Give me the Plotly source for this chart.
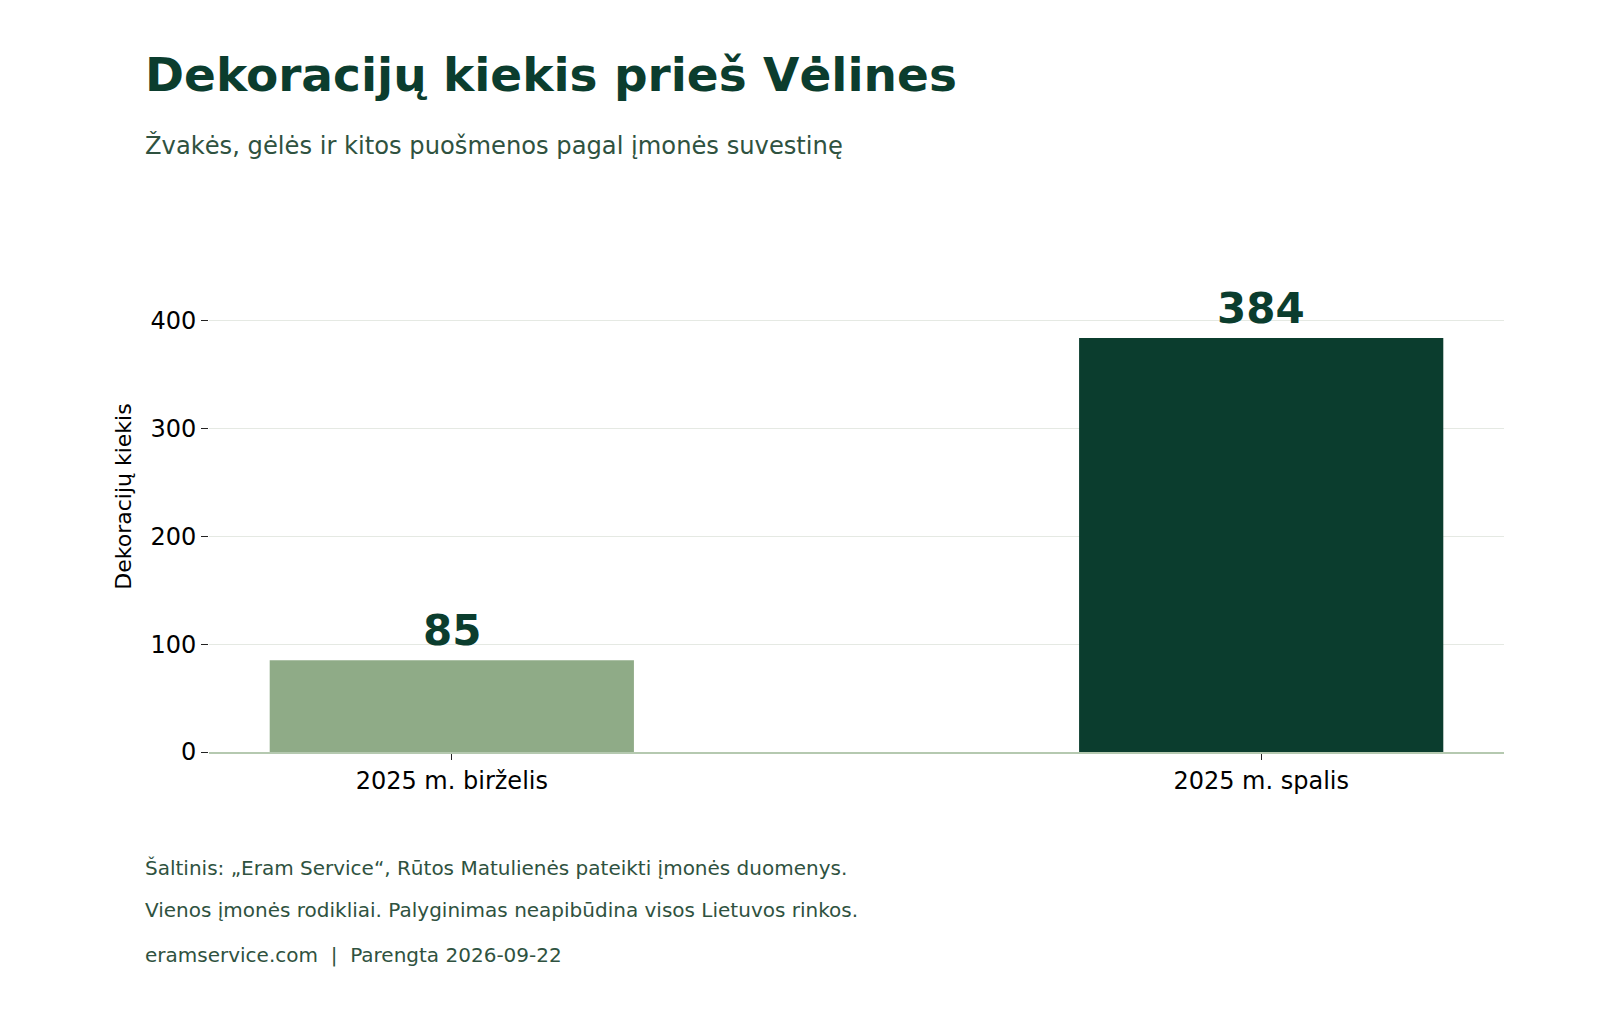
import plotly.graph_objects as go

# data
categories = ["2025 m. birželis", "2025 m. spalis"]
values = [85, 384]
bar_colors = ["#8fab87", "#0b3d2e"]
y_ticks = [0, 100, 200, 300, 400]

title = "Dekoracijų kiekis prieš Vėlines"
subtitle = "Žvakės, gėlės ir kitos puošmenos pagal įmonės suvestinę"
notes = [
    "Šaltinis: „Eram Service“, Rūtos Matulienės pateikti įmonės duomenys.",
    "Vienos įmonės rodikliai. Palyginimas neapibūdina visos Lietuvos rinkos.",
    "eramservice.com  |  Parengta 2026-09-22",
]

W, H = 1600, 1018
L, R, T, B = 201, 104, 233, 274
plot_h = H - T - B
plot_w = W - L - R


def px_to_paper(xp, yp):
    return (xp - L) / plot_w, (H - B - yp) / plot_h


FONT = "DejaVu Sans"
dark = "#0b3d2e"
muted = "#2f5240"

fig = go.Figure()
fig.add_trace(go.Bar(
    x=categories, y=values, marker_color=bar_colors, width=0.45,
    marker_line_width=0, hoverinfo="skip",
))

# value labels above bars
for c, v in zip(categories, values):
    fig.add_annotation(x=c, y=v, text=f"<b>{v}</b>", showarrow=False,
                       yanchor="bottom", yshift=3,
                       font=dict(family=FONT, size=42, color=dark))

# title, subtitle, notes
tx, ty = px_to_paper(135, 67)
fig.add_annotation(xref="paper", yref="paper", x=tx, y=ty, text=f"<b>{title}</b>",
                   showarrow=False, xanchor="left", yanchor="middle",
                   font=dict(family=FONT, size=47, color=dark))
sx, sy = px_to_paper(135, 137)
fig.add_annotation(xref="paper", yref="paper", x=sx, y=sy, text=subtitle,
                   showarrow=False, xanchor="left", yanchor="middle",
                   font=dict(family=FONT, size=24.2, color=muted))
for note, yp in zip(notes, [860, 902, 947]):
    nx, ny = px_to_paper(135, yp)
    fig.add_annotation(xref="paper", yref="paper", x=nx, y=ny, text=note,
                       showarrow=False, xanchor="left", yanchor="middle",
                       font=dict(family=FONT, size=20, color=muted))

fig.update_layout(
    width=W, height=H,
    margin=dict(l=L, r=R, t=T, b=B),
    paper_bgcolor="white", plot_bgcolor="white",
    showlegend=False,
    font=dict(family=FONT, color="black"),
)
fig.update_xaxes(
    range=[-0.3, 1.3], showgrid=False, zeroline=False,
    showline=True, linecolor="#b5c9b0", linewidth=1.5,
    ticks="outside", ticklen=6, tickcolor="#222", tickwidth=1.2,
    tickfont=dict(family=FONT, size=24, color="black"),
)
fig.update_yaxes(
    range=[0, 474], tickvals=y_ticks, showgrid=True, gridcolor="#e5e9e3", gridwidth=1.2,
    zeroline=False, showline=False,
    ticks="outside", ticklen=7, tickcolor="#222", tickwidth=1.2,
    tickfont=dict(family=FONT, size=24, color="black"),
    title=dict(text="Dekoracijų kiekis", font=dict(family=FONT, size=22, color="black"), standoff=12),
)

fig.write_html("out.html")
